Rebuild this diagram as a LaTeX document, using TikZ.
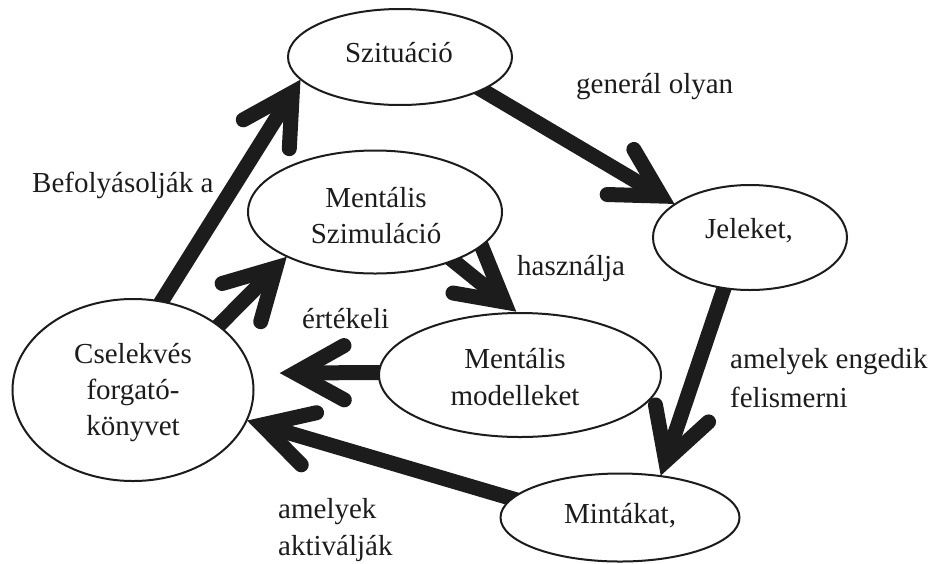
\documentclass[tikz,border=0pt]{standalone}
\usepackage{fontspec}
\setmainfont{Liberation Serif}
\usetikzlibrary{calc,shapes.geometric}
\pgfdeclarelayer{bg}
\pgfsetlayers{bg,main}
\definecolor{inkc}{RGB}{28,28,28}
% #1 tail anchor, #2 target anchor, #3 pull-back of the head vertex, #4/#5 arm lengths
\newcommand\fatarrow[5]{%
  \coordinate (vx) at ($(#2)!#3!(#1)$);
  \draw[shaftline] ($(#1)!-10pt!(vx)$) -- (vx);
  \draw[headline] ($(vx)!#4!29:(#1)$) -- (vx) -- ($(vx)!#5!-29:(#1)$);
}
\begin{document}
\begin{tikzpicture}[x=1pt,y=-1pt,
  oval/.style={ellipse, draw=inkc, line width=2pt, fill=white, inner sep=0pt},
  shaftline/.style={draw=inkc, line width=15pt},
  headline/.style={draw=inkc, line width=15pt, line cap=round, line join=miter, miter limit=20},
  txt/.style={inner sep=0pt, text=inkc, font=\fontsize{29}{36}\selectfont},
  ctxt/.style={txt, anchor=base, align=center},
  ltxt/.style={txt, anchor=base west, align=left},
]
\useasboundingbox (0,0) rectangle (933,563);

% ellipses
\node[oval, minimum width=224pt, minimum height=96pt]  (sz) at (400,57) {};
\node[oval, minimum width=254pt, minimum height=123pt] (ms) at (375,212) {};
\node[oval, minimum width=194pt, minimum height=105pt] (je) at (750,237.5) {};
\node[oval, minimum width=282pt, minimum height=124pt] (mm) at (520,375) {};
\node[oval, minimum width=239pt, minimum height=88pt]  (mi) at (620,517.5) {};
\node[oval, minimum width=241pt, minimum height=182pt] (cs) at (133,390) {};

% texts in the ellipses (base = baseline of the last line)
\node[ctxt] (szt) at (399,62) {Szituáció};
\node[ctxt] (mst) at (376,243) {Mentális\\Szimuláció};
\node[ctxt] (jet) at (749,238) {Jeleket,};
\node[ctxt, font=\fontsize{29}{37}\selectfont] (mmt) at (515,405) {Mentális\\modelleket};
\node[ctxt] (mit) at (620,523) {Mintákat,};
\node[ctxt] (cst) at (133,435) {Cselekvés\\forgató-\\könyvet};

% connector labels
\node[ltxt] (l1) at (32,192) {Befolyásolják a};
\node[ltxt] (l2) at (576,93) {generál olyan};
\node[ltxt] (l3) at (517,275) {használja};
\node[ltxt] (l4) at (302,328) {értékeli};
\node[ltxt, font=\fontsize{29}{39}\selectfont] (l5) at (730,407) {amelyek engedik\\felismerni};
\node[ltxt, font=\fontsize{29}{37}\selectfont] (l6) at (278,555) {amelyek\\aktiválják};

% connectors
\begin{pgfonlayer}{bg}
  \fatarrow{cs.72}{sz.-167}{15pt}{56pt}{56pt}
  \fatarrow{cs.37}{ms.-153}{15pt}{56pt}{56pt}
  \fatarrow{mm.179}{cs.8}{0.34}{56pt}{56pt}
  \fatarrow{mi.170}{cs.-15}{15pt}{56pt}{56pt}
  \fatarrow{sz.-22}{je.156}{15pt}{54pt}{54pt}
  \fatarrow{ms.-32}{mm.93}{16pt}{52pt}{68pt}
  \fatarrow{je.-117}{mi.46}{15pt}{57pt}{58pt}
\end{pgfonlayer}
\end{tikzpicture}
\end{document}
